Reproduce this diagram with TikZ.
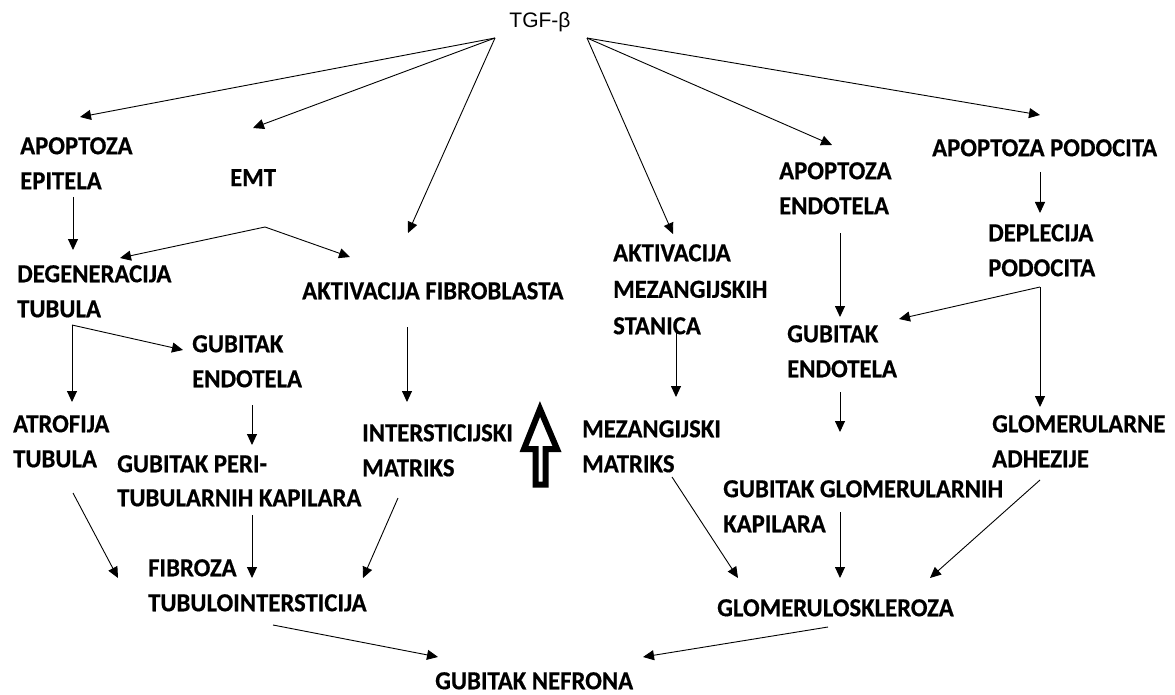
\documentclass[tikz,border=0pt]{standalone}
\usepackage{fontspec}
\setmainfont{Carlito}[FakeStretch=0.95,BoldFeatures={FakeBold=0.5}]
\newfontfamily\arialf{Liberation Sans}
\usetikzlibrary{arrows.meta}
\begin{document}
\begin{tikzpicture}[x=1pt,y=-1pt,
  lbl/.style={anchor=north west,inner sep=0pt,align=left,font=\fontsize{26}{35}\selectfont\bfseries},
  arr/.style={-{Triangle[length=11pt,width=10pt]},line width=0.9pt},
  bigarrow/.style={draw=black,fill=white,line width=6pt,line join=miter}]
\fill[white] (0,0) rectangle (1175,695);
\useasboundingbox (0,0) rectangle (1175,695);

% nodes
\node[font=\arialf\fontsize{21}{24}\selectfont] (tgf) at (540,22) {TGF-β};
\node[lbl] (apep) at (20,137) {APOPTOZA\\EPITELA};
\node[lbl] (emt) at (230,169) {EMT};
\node[lbl] (deg) at (17,265) {DEGENERACIJA\\TUBULA};
\node[lbl] (akf) at (302,282) {AKTIVACIJA FIBROBLASTA};
\node[lbl,font=\fontsize{26}{36.5}\selectfont\bfseries] (akm) at (613,244) {AKTIVACIJA\\MEZANGIJSKIH\\STANICA};
\node[lbl] (apen) at (779,162) {APOPTOZA\\ENDOTELA};
\node[lbl] (appo) at (932,139) {APOPTOZA PODOCITA};
\node[lbl] (depl) at (988,224) {DEPLECIJA\\PODOCITA};
\node[lbl] (gubR) at (787,325) {GUBITAK\\ENDOTELA};
\node[lbl] (gubL) at (192,335) {GUBITAK\\ENDOTELA};
\node[lbl] (atro) at (13,415) {ATROFIJA\\TUBULA};
\node[lbl,font=\fontsize{26}{34}\selectfont\bfseries] (peri) at (117,455) {GUBITAK PERI-\\TUBULARNIH KAPILARA};
\node[lbl] (inter) at (362,424) {INTERSTICIJSKI\\MATRIKS};
\node[lbl] (mez) at (582,420) {MEZANGIJSKI\\MATRIKS};
\node[lbl] (adh) at (992,415) {GLOMERULARNE\\ADHEZIJE};
\node[lbl] (gglo) at (723,480) {GUBITAK GLOMERULARNIH\\KAPILARA};
\node[lbl] (fib) at (148,559) {FIBROZA\\TUBULOINTERSTICIJA};
\node[lbl] (glo) at (717,599) {GLOMERULOSKLEROZA};
\node[lbl] (nef) at (435,672) {GUBITAK NEFRONA};

% connector ends
\coordinate (tgfL) at (495,38);
\coordinate (tgfR) at (587,38);
\coordinate (apep-in) at (80,117);
\coordinate (emt-in) at (253,128);
\coordinate (akf-in) at (408,233);
\coordinate (akm-in) at (673,234);
\coordinate (apen-in) at (832,145);
\coordinate (appo-in) at (1040,115);
\coordinate (apep-out) at (73,197);
\coordinate (deg-in) at (73,250);
\coordinate (emt-out) at (265,227);
\coordinate (deg-in2) at (120,258);
\coordinate (akf-in2) at (350,257);
\coordinate (deg-out) at (72,325);
\coordinate (atro-in) at (72,402);
\coordinate (gubL-in) at (183,350);
\coordinate (gubL-out) at (252,405);
\coordinate (peri-in) at (252,445);
\coordinate (akf-out) at (407,327);
\coordinate (inter-in) at (407,402);
\coordinate (atro-out) at (73,493);
\coordinate (fib-in1) at (118,578);
\coordinate (peri-out) at (252,515);
\coordinate (fib-in2) at (252,578);
\coordinate (inter-out) at (398,498);
\coordinate (fib-in3) at (363,578);
\coordinate (fib-out) at (273,625);
\coordinate (nef-in1) at (438,657);
\coordinate (glo-out) at (828,627);
\coordinate (nef-in2) at (643,657);
\coordinate (mez-out) at (672,477);
\coordinate (glo-in1) at (738,578);
\coordinate (gglo-out) at (840,512);
\coordinate (glo-in2) at (840,578);
\coordinate (adh-out) at (1040,480);
\coordinate (glo-in3) at (930,578);
\coordinate (gubR-out) at (840,392);
\coordinate (gglo-in) at (840,432);
\coordinate (akm-out) at (676,328);
\coordinate (mez-in) at (676,397);
\coordinate (apen-out) at (840,233);
\coordinate (gubR-in) at (840,317);
\coordinate (appo-out) at (1040,172);
\coordinate (depl-in) at (1040,213);
\coordinate (depl-out) at (1040,287);
\coordinate (adh-in) at (1040,407);
\coordinate (gubR-in2) at (899,319);

% connectors
\draw[arr] (tgfL) -- (apep-in);
\draw[arr] (tgfL) -- (emt-in);
\draw[arr] (tgfL) -- (akf-in);
\draw[arr] (tgfR) -- (akm-in);
\draw[arr] (tgfR) -- (apen-in);
\draw[arr] (tgfR) -- (appo-in);
\draw[arr] (apep-out) -- (deg-in);
\draw[arr] (emt-out) -- (deg-in2);
\draw[arr] (emt-out) -- (akf-in2);
\draw[arr] (deg-out) -- (atro-in);
\draw[arr] (deg-out) -- (gubL-in);
\draw[arr] (gubL-out) -- (peri-in);
\draw[arr] (akf-out) -- (inter-in);
\draw[arr] (atro-out) -- (fib-in1);
\draw[arr] (peri-out) -- (fib-in2);
\draw[arr] (inter-out) -- (fib-in3);
\draw[arr] (fib-out) -- (nef-in1);
\draw[arr] (glo-out) -- (nef-in2);
\draw[arr] (mez-out) -- (glo-in1);
\draw[arr] (gglo-out) -- (glo-in2);
\draw[arr] (adh-out) -- (glo-in3);
\draw[arr] (gubR-out) -- (gglo-in);
\draw[arr] (akm-out) -- (mez-in);
\draw[arr] (apen-out) -- (gubR-in);
\draw[arr] (appo-out) -- (depl-in);
\draw[arr] (depl-out) -- (adh-in);
\draw[arr] (depl-out) -- (gubR-in2);

% thick hollow arrow
\draw[bigarrow] (540,409) -- (557,449) -- (545.5,449) -- (545.5,484.5) -- (535.5,484.5) -- (535.5,449) -- (524,449) -- cycle;
\end{tikzpicture}
\end{document}
